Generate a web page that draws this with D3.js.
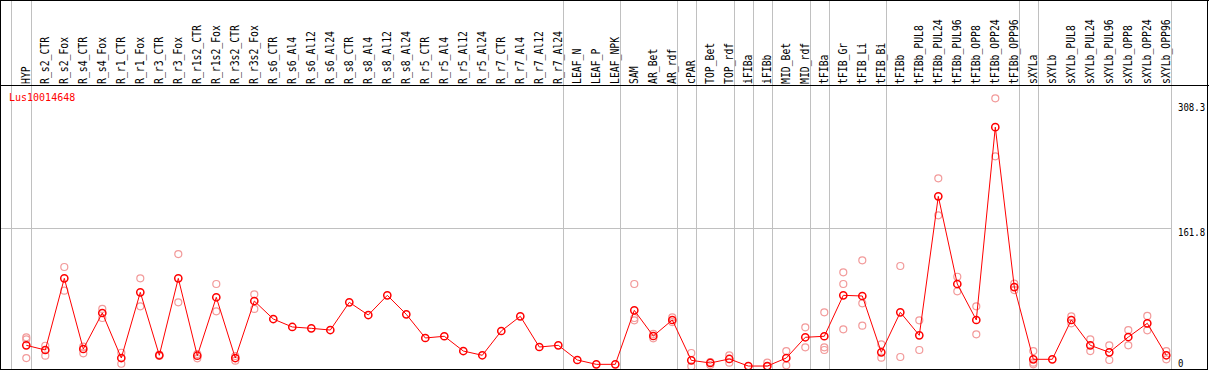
<!DOCTYPE html>
<html lang="en">
<head>
<meta charset="UTF-8"/>
<title>Lus10014648</title>
<script src="https://d3js.org/d3.v7.min.js"></script>
<style>
	body { margin: 0; background: #fff; }
	text { font-family: "DejaVu Sans Mono", "Liberation Mono", monospace; }
	.frame { stroke: #000; stroke-width: 1px; shape-rendering: crispEdges; }
	.sep { stroke: #c0c0c0; stroke-width: 1px; shape-rendering: crispEdges; }
	.meanLine { fill: none; stroke: #ff0000; stroke-width: 1px; }
	.meanDot { fill: none; stroke: #ff0000; stroke-width: 1.5px; }
	.repDot { fill: none; stroke: #f29a9a; stroke-width: 1.2px; }
</style>
</head>
<body>
<div id="chart"></div>
<script>
	var geneName = "Lus10014648";

	var samples = ["HYP", "R_s2_CTR", "R_s2_Fox", "R_s4_CTR", "R_s4_Fox", "R_r1_CTR", "R_r1_Fox",
		"R_r3_CTR", "R_r3_Fox", "R_r1s2_CTR", "R_r1s2_Fox", "R_r3s2_CTR", "R_r3s2_Fox",
		"R_s6_CTR", "R_s6_Al4", "R_s6_Al12", "R_s6_Al24", "R_s8_CTR", "R_s8_Al4", "R_s8_Al12", "R_s8_Al24",
		"R_r5_CTR", "R_r5_Al4", "R_r5_Al12", "R_r5_Al24", "R_r7_CTR", "R_r7_Al4", "R_r7_Al12", "R_r7_Al24",
		"LEAF_N", "LEAF_P", "LEAF_NPK", "SAM", "AR_Bet", "AR_rdf", "cPAR", "TOP_Bet", "TOP_rdf",
		"iFIBa", "iFIBb", "MID_Bet", "MID_rdf", "tFIBa", "tFIB_Gr", "tFIB_Li", "tFIB_Bi",
		"tFIBb", "tFIBb_PUL8", "tFIBb_PUL24", "tFIBb_PUL96", "tFIBb_OPP8", "tFIBb_OPP24", "tFIBb_OPP96",
		"sXYLa", "sXYLb", "sXYLb_PUL8", "sXYLb_PUL24", "sXYLb_PUL96", "sXYLb_OPP8", "sXYLb_OPP24", "sXYLb_OPP96"];

	var meanValues = [24.6, 19.1, 103.1, 20.3, 62.5, 9.7, 86.7, 12.9, 103.1, 12.4, 80.9, 9.7, 76.5,
		55.4, 46.1, 44.5, 42.5, 75.0, 60.1, 83.2, 60.9, 33.2, 35.2, 17.9, 12.9, 41.4, 58.6, 22.6, 24.6,
		7.4, 2.3, 2.3, 65.6, 35.5, 54.3, 7.0, 3.9, 8.6, 0.3, 0.3, 9.7, 34.0, 35.2, 83.2, 82.4, 16.4,
		63.3, 36.3, 199.2, 96.5, 54.3, 280.3, 92.9, 8.2, 8.2, 54.3, 24.6, 16.4, 34.3, 50.4, 12.9];

	var replicateValues = [
		[34.0, 31.6, 9.7], [24.1, 12.4], [116.4, 88.6], [23.0, 15.2], [67.2, 56.6], [15.9, 3.0],
		[103.1, 70.3], [13.6, 12.1], [131.6, 75.0], [14.4, 9.4], [96.5, 64.5], [12.1, 6.6], [84.4, 67.2],
		[], [], [], [], [], [], [], [], [], [], [], [], [], [], [], [],
		[], [], [], [96.5, 56.6, 53.9], [32.8, 37.9], [57.4, 51.9], [15.6, 0], [1.5, 5.0], [12.9, 4.2],
		[], [4.2, 0], [17.9, 1.2], [45.7, 22.3], [63.3, 22.3, 19.1], [110.2, 96.5, 43.4],
		[124.2, 73.8, 47.6], [25.8, 10.1], [117.6, 10.9], [53.9, 19.1], [220.3, 177.0], [105.0, 87.9],
		[70.3, 37.5], [314.1, 246.1], [96.8, 89.4], [17.9, 4.2, 2.3], [], [58.6, 50.4], [31.6, 17.9],
		[24.6, 7.4], [42.5, 24.6], [59.0, 42.2], [17.9, 8.2]];

	// a grey separator is drawn right after each of these samples
	var groupEnds = ["HYP", "R_r7_Al24", "LEAF_NPK", "AR_rdf", "cPAR", "TOP_rdf", "iFIBa", "iFIBb",
		"MID_rdf", "tFIBa", "tFIB_Bi", "tFIBb_OPP96", "sXYLa", "sXYLb_OPP96"];

	var axisTicks = [0, 161.8, 308.3];

	var w = 1209, h = 370;
	var headerBottom = 85.5;

	var xScale = d3.scaleBand()
		.domain(samples)
		.range([16.8, 16.8 + samples.length * 19]);

	function cx(name) { return xScale(name) + xScale.bandwidth() / 2; }

	var yScale = d3.scaleLinear()
		.domain([0, 308.3])
		.range([366.3, 103.3]);

	var svg = d3.select("#chart")
		.append("svg")
		.attr("width", w)
		.attr("height", h);

	svg.append("rect").attr("width", w).attr("height", h).attr("fill", "#fff");

	// separators
	var sepX = [cx(samples[0]) - 15.5].concat(groupEnds.map(function(s) { return cx(s) + 4.5; }));
	svg.selectAll(".sep.v")
		.data(sepX)
		.enter().append("line")
		.attr("class", "sep v")
		.attr("x1", function(d) { return Math.round(d) + 0.5; })
		.attr("x2", function(d) { return Math.round(d) + 0.5; })
		.attr("y1", 0)
		.attr("y2", h - 1);

	// reference line
	svg.append("line")
		.attr("class", "sep")
		.attr("x1", 0)
		.attr("x2", Math.round(sepX[sepX.length - 1]) + 0.5)
		.attr("y1", Math.round(yScale(161.8)) + 0.5)
		.attr("y2", Math.round(yScale(161.8)) + 0.5);

	// sample labels
	svg.selectAll(".sampleLabel")
		.data(samples)
		.enter().append("text")
		.attr("class", "sampleLabel")
		.attr("transform", function(d) { return "translate(" + (cx(d) + 3.7) + ",84) rotate(-90) scale(0.85,1)"; })
		.style("font-size", "11.5px")
		.attr("fill", "#000")
		.text(function(d) { return d; });

	// gene name
	svg.append("text")
		.attr("x", 9)
		.attr("y", 101)
		.attr("fill", "#ff0000")
		.style("font-size", "10px")
		.text(geneName);

	// replicate points
	var reps = [];
	replicateValues.forEach(function(arr, i) {
		arr.forEach(function(v) { reps.push({ s: samples[i], v: v }); });
	});
	svg.selectAll(".repDot")
		.data(reps)
		.enter().append("circle")
		.attr("class", "repDot")
		.attr("cx", function(d) { return cx(d.s); })
		.attr("cy", function(d) { return yScale(d.v); })
		.attr("r", 3.5);

	// mean line and points
	var means = samples.map(function(s, i) { return { s: s, v: meanValues[i] }; });
	var line = d3.line()
		.x(function(d) { return cx(d.s); })
		.y(function(d) { return yScale(d.v); });

	svg.append("path")
		.datum(means)
		.attr("class", "meanLine")
		.attr("d", line);

	svg.selectAll(".meanDot")
		.data(means)
		.enter().append("circle")
		.attr("class", "meanDot")
		.attr("cx", function(d) { return cx(d.s); })
		.attr("cy", function(d) { return yScale(d.v); })
		.attr("r", 3.6);

	// value labels on the right (squeezed a little so they stay inside the frame)
	svg.selectAll(".tickLabel")
		.data(axisTicks)
		.enter().append("text")
		.attr("class", "tickLabel")
		.attr("transform", function(d) {
			return "translate(1178," + Math.min(yScale(d) + 8, 367) + ") scale(0.86,1)";
		})
		.style("font-size", "10.5px")
		.attr("fill", "#000")
		.text(function(d) { return d; });

	// frame
	svg.append("line").attr("class", "frame").attr("x1", 0).attr("x2", w).attr("y1", 0.5).attr("y2", 0.5);
	svg.append("line").attr("class", "frame").attr("x1", 0).attr("x2", w).attr("y1", headerBottom).attr("y2", headerBottom);
	svg.append("line").attr("class", "frame").attr("x1", 0).attr("x2", 1208).attr("y1", 369.5).attr("y2", 369.5);
	svg.append("line").attr("class", "frame").attr("x1", 0.5).attr("x2", 0.5).attr("y1", 0).attr("y2", h);
	svg.append("line").attr("class", "frame").attr("x1", 1207.5).attr("x2", 1207.5).attr("y1", 0).attr("y2", h);
</script>
</body>
</html>
